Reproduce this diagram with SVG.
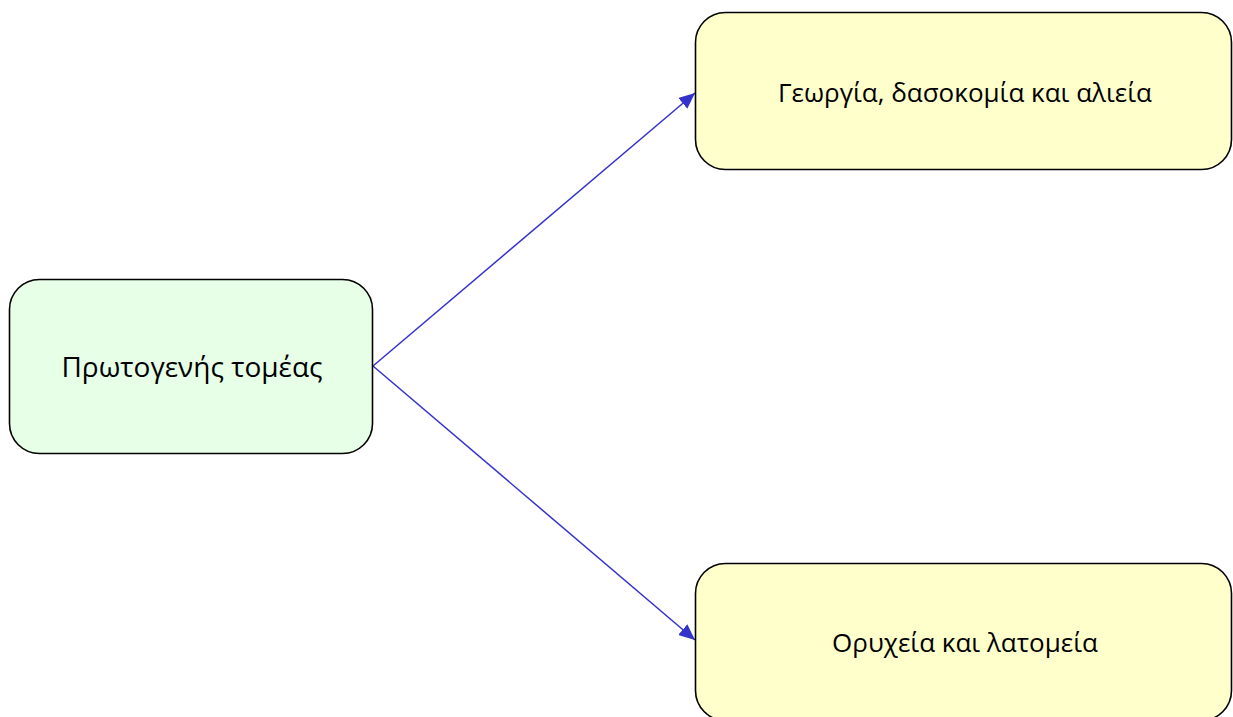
<svg xmlns="http://www.w3.org/2000/svg" width="1233" height="717" viewBox="0 0 1233 717">
<style>
.box{stroke:#000;stroke-width:1.6}
.g{fill:#e6ffe6}
.y{fill:#ffffcc}
.t{font-family:"Open Sans","Noto Sans","DejaVu Sans",sans-serif;font-size:26px;fill:#000;text-anchor:middle;dominant-baseline:central}
.big{font-size:28px}
.c{stroke:#3333cc;stroke-width:1.5;fill:none;marker-end:url(#ah)}
</style>
<defs>
<marker id="ah" viewBox="0 0 16 14" refX="16" refY="7" markerWidth="16" markerHeight="14" markerUnits="userSpaceOnUse" orient="auto">
<path d="M0,0 L16,7 L0,14 z" fill="#3333cc"/>
</marker>
</defs>
<rect width="1233" height="717" fill="#fff"/>
<g id="connectors">
<line class="c" x1="373" y1="366" x2="695" y2="93"/>
<line class="c" x1="373" y1="366" x2="695" y2="640"/>
</g>
<g id="node-primary">
<rect class="box g" x="9.5" y="279.5" width="363" height="174" rx="30"/>
<text class="t big" x="192" y="366">Πρωτογενής τομέας</text>
</g>
<g id="node-agriculture">
<rect class="box y" x="695.5" y="12.5" width="536" height="157" rx="30"/>
<text class="t" x="965" y="92">Γεωργία, δασοκομία και αλιεία</text>
</g>
<g id="node-mining">
<rect class="box y" x="695.5" y="563.5" width="536" height="157" rx="30"/>
<text class="t" x="965" y="642">Ορυχεία και λατομεία</text>
</g>
</svg>
